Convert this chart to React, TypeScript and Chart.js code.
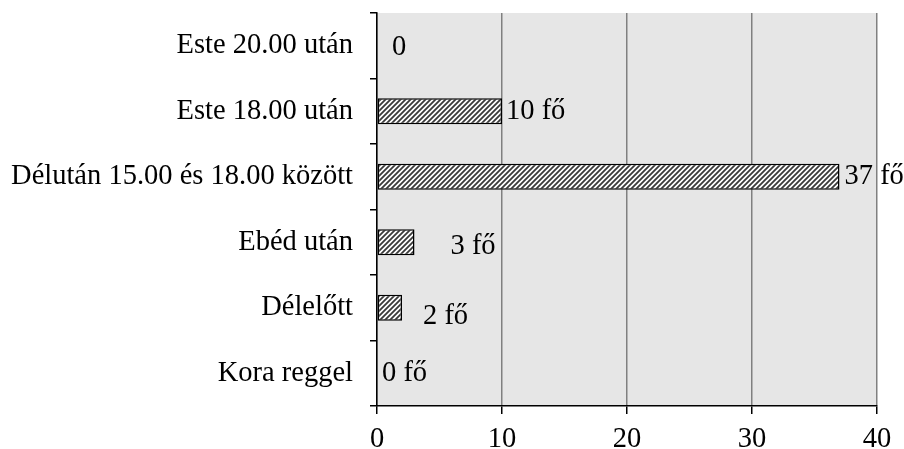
import React, { useEffect, useRef } from "react";
import { Chart, registerables } from "chart.js";

Chart.register(...registerables);

const categories = [
  "Este 20.00 után",
  "Este 18.00 után",
  "Délután 15.00 és 18.00 között",
  "Ebéd után",
  "Délelőtt",
  "Kora reggel",
];
const values = [0, 10, 37, 3, 2, 0];
const valueLabels = ["0", "10 fő", "37 fő", "3 fő", "2 fő", "0 fő"];
const xTicks = [0, 10, 20, 30, 40];

const FONT = "'Liberation Serif', 'Times New Roman', serif";
const FONT_SIZE = 28.5;

function makePattern(): CanvasPattern | string {
  const s = 5;
  const c = document.createElement("canvas");
  c.width = s;
  c.height = s;
  const ctx = c.getContext("2d");
  if (!ctx) return "#888";
  ctx.fillStyle = "#ffffff";
  ctx.fillRect(0, 0, s, s);
  ctx.strokeStyle = "#3a3a3a";
  ctx.lineWidth = 1.8;
  ctx.beginPath();
  ctx.moveTo(-1, s + 1);
  ctx.lineTo(s + 1, -1);
  ctx.moveTo(-1, 1);
  ctx.lineTo(1, -1);
  ctx.moveTo(s - 1, s + 1);
  ctx.lineTo(s + 1, s - 1);
  ctx.stroke();
  const p = ctx.createPattern(c, "repeat");
  return p || "#888";
}

const bgPlugin = {
  id: "plotBg",
  beforeDraw(chart: any) {
    const { ctx, chartArea } = chart;
    ctx.save();
    ctx.fillStyle = "#e6e6e6";
    ctx.fillRect(chartArea.left, chartArea.top, chartArea.right - chartArea.left, chartArea.bottom - chartArea.top);
    ctx.restore();
  },
};

const labelPlugin = {
  id: "valueLabels",
  afterDatasetsDraw(chart: any, _args: any, opts: any) {
    const { ctx } = chart;
    const meta = chart.getDatasetMeta(0);
    ctx.save();
    ctx.font = `${FONT_SIZE}px ${FONT}`;
    ctx.fillStyle = "#000";
    ctx.textAlign = "left";
    ctx.textBaseline = "middle";
    meta.data.forEach((el: any, i: number) => {
      const dx = opts.dx[i] || 0;
      const dy = opts.dy[i] || 0;
      ctx.fillText(valueLabels[i], el.x + dx, el.y + dy);
    });
    ctx.restore();
  },
};

export default function App() {
  const ref = useRef<HTMLCanvasElement>(null);
  useEffect(() => {
    if (!ref.current) return;
    const chart = new Chart(ref.current, {
      type: "bar",
      data: {
        labels: categories,
        datasets: [
          {
            data: values,
            backgroundColor: makePattern() as any,
            borderColor: "#000",
            borderWidth: 1.5,
            borderSkipped: false,
            categoryPercentage: 1,
            barPercentage: 0.4,
          },
        ],
      },
      options: {
        indexAxis: "y",
        animation: false,
        responsive: false,
        layout: { padding: { top: 13, right: 27, left: 0, bottom: 0 } },
        plugins: {
          legend: { display: false },
          tooltip: { enabled: false },
          valueLabels: {
            dx: [15, 4, 5, 36, 21, 5],
            dy: [2, 0, 0, 4, 9, 0],
          },
        } as any,
        scales: {
          x: {
            min: 0,
            max: 40,
            afterBuildTicks(scale: any) {
              scale.ticks = xTicks.map((v) => ({ value: v }));
            },
            afterFit(scale: any) {
              scale.height = 43;
              scale.paddingLeft = 0;
              scale.paddingRight = 0;
            },
            grid: {
              color: "#808080",
              lineWidth: 1.5,
              tickColor: "#000",
              tickLength: 8,
              drawTicks: true,
            },
            border: { display: true, color: "#000", width: 1.5 },
            ticks: {
              color: "#000",
              font: { family: FONT, size: FONT_SIZE },
              padding: 8,
              maxRotation: 0,
            },
          },
          y: {
            type: "category",
            afterFit(scale: any) {
              scale.width = 377;
              scale.paddingTop = 0;
              scale.paddingBottom = 0;
            },
            grid: {
              offset: true,
              drawOnChartArea: false,
              drawTicks: true,
              tickLength: 7,
              tickColor: "#000",
              lineWidth: 1.5,
              color: "#000",
            },
            border: { display: true, color: "#000", width: 1.5 },
            ticks: {
              color: "#000",
              font: { family: FONT, size: FONT_SIZE },
              padding: 17,
            },
          },
        },
      },
      plugins: [bgPlugin, labelPlugin],
    });
    return () => chart.destroy();
  }, []);
  return (
    <div style={{ position: "absolute", left: 0, top: 0, width: 904, height: 449 }}>
      <canvas ref={ref} width={904} height={449} style={{ width: 904, height: 449 }} />
    </div>
  );
}
